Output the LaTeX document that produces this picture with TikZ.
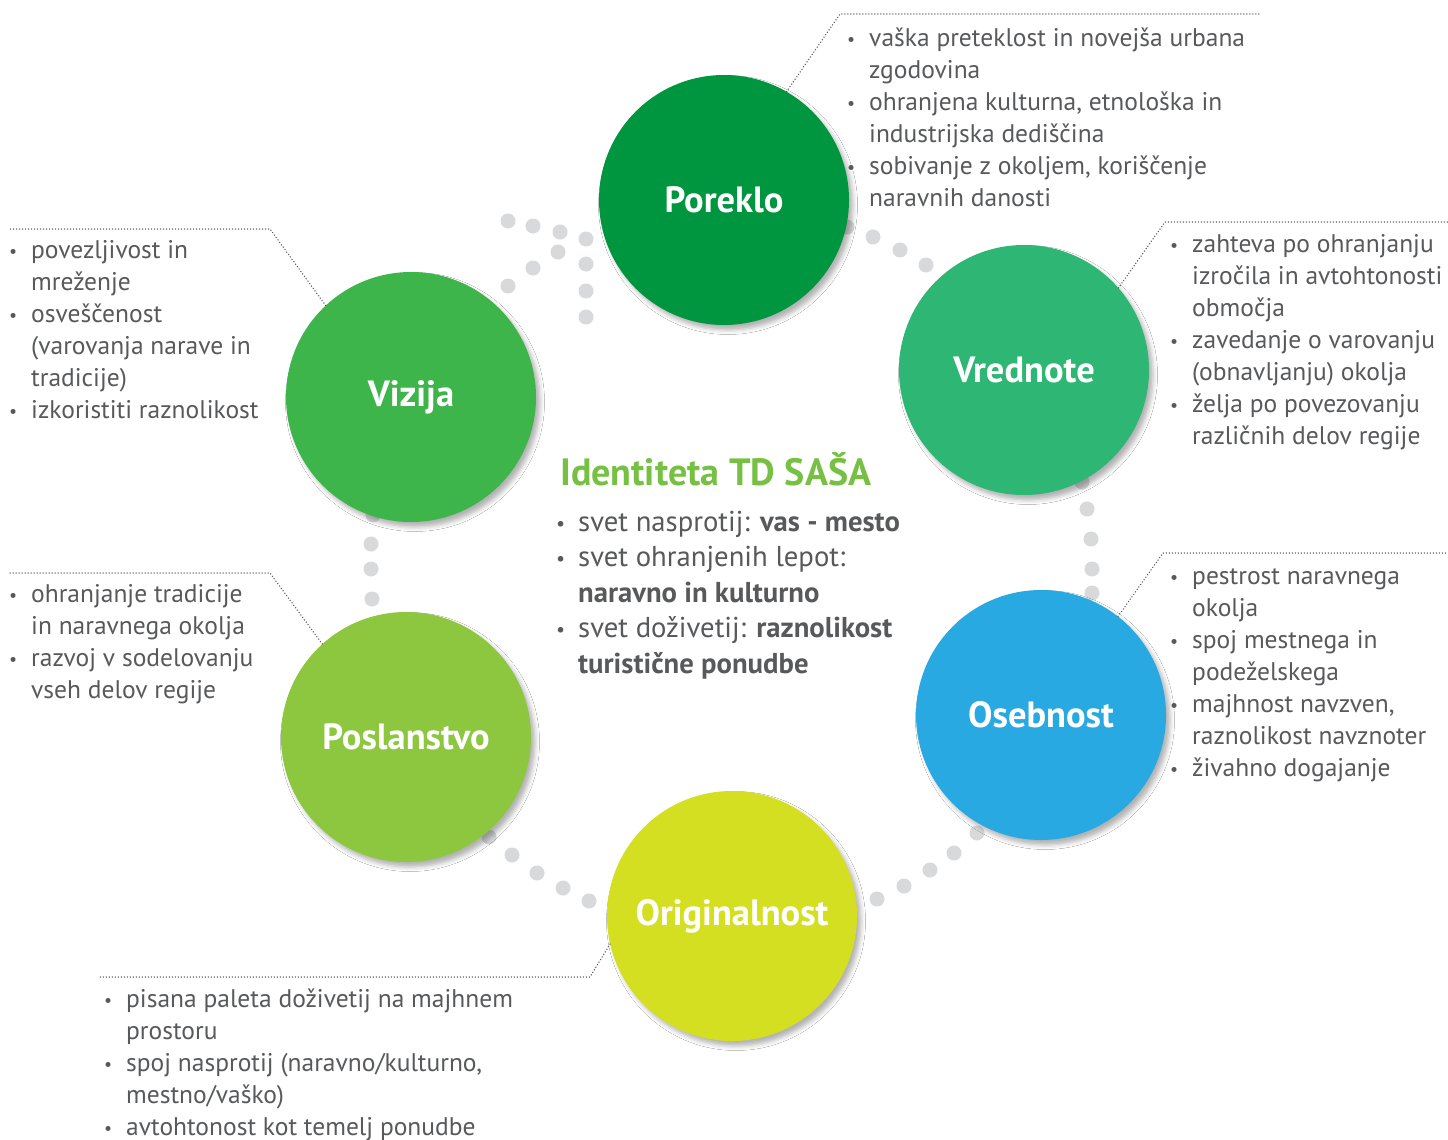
\documentclass[tikz,border=0pt]{standalone}
\usepackage{fontspec}
\setmainfont{PT Sans}
\usetikzlibrary{shadows.blur}
\definecolor{poreklo}{HTML}{00963F}
\definecolor{vrednote}{HTML}{2DB674}
\definecolor{osebnost}{HTML}{29A9E1}
\definecolor{originalnost}{HTML}{D5DF21}
\definecolor{poslanstvo}{HTML}{8DC63F}
\definecolor{vizija}{HTML}{3DB54A}
\definecolor{titlegreen}{HTML}{76C043}
\definecolor{txtgray}{HTML}{58595B}
\definecolor{dotgray}{HTML}{D8D9DB}
\definecolor{leadgray}{HTML}{58595B}
\newcommand\bu{\strut\makebox[22pt][l]{\raisebox{1pt}{\scalebox{0.7}{\textbullet}}}}
\newcommand\hi{\hspace*{22pt}}
\tikzset{
  stage/.style={%
    circle,fill=#1,
    minimum size=250pt,
    inner sep=0pt,text=white,
    font=\bfseries\fontsize{36.5}{40}\selectfont,
    blur shadow={shadow xshift=4pt,shadow yshift=-5pt,shadow blur radius=4.5pt,shadow opacity=30},
  },
  notes/.style={%
    anchor=north west,align=left,
    inner sep=0pt,text=txtgray,
    font=\fontsize{25.5}{32}\selectfont,
  },
  leader/.style={%
    draw=leadgray,line width=1.5pt,
    dash pattern=on 0pt off 3pt,line cap=round,
  },
  dot/.style={fill=dotgray},
}
\begin{document}
\begin{tikzpicture}[x=1pt,y=-1pt]
\useasboundingbox[fill=white] (0,0) rectangle (1448,1140);
% dotted ring between the stages
\foreach \x/\y in {508/221,533/226,560/232,586/239,558/252,533/268,508/286,586/264,586/291,586/317,
    847/227,873/237,900/250,926/265,
    1082/482,1087/509,1091/539,1092/569,1092/593,
    977/833,954/853,930/870,904/886,877/899,
    489/837,512/855,537/873,563/888,589/901,
    373/515,371/544,371/569,372/599}
  \fill[dot] (\x,\y) circle (7.5pt);
% stages
\node[stage=poreklo] (Poreklo) at (724,200) {Poreklo};
\node[stage=vrednote] (Vrednote) at (1024,370) {Vrednote};
\node[stage=osebnost] (Osebnost) at (1041,715) {Osebnost};
\node[stage=originalnost] (Originalnost) at (732,916) {Originalnost};
\node[stage=poslanstvo] (Poslanstvo) at (406,737) {Poslanstvo};
\node[stage=vizija] (Vizija) at (411,397) {Vizija};
% leader corners
\coordinate (pk1) at (840,14);    \coordinate (pk2) at (1260,14);
\coordinate (vr1) at (1165,222);  \coordinate (vr2) at (1448,222);
\coordinate (os1) at (1163,553);  \coordinate (os2) at (1448,553);
\coordinate (vi1) at (270,229);   \coordinate (vi2) at (10,229);
\coordinate (po1) at (270,573);   \coordinate (po2) at (10,573);
\coordinate (or1) at (590,977);   \coordinate (or2) at (100,977);
\draw[leader] (Poreklo.60) -- (pk1) -- (pk2);
\draw[leader] (Vrednote.41) -- (vr1) -- (vr2);
\draw[leader] (Osebnost.52) -- (os1) -- (os2);
\draw[leader] (Vizija.133) -- (vi1) -- (vi2);
\draw[leader] (Poslanstvo.132) -- (po1) -- (po2);
\draw[leader] (Originalnost.193) -- (or1) -- (or2);
% notes (top = first baseline - 22.4)
\node[notes] (pkText) at (847,23.6) {%
  \bu vaška preteklost in novejša urbana\\ \hi zgodovina\\
  \bu ohranjena kulturna, etnološka in\\ \hi industrijska dediščina\\
  \bu sobivanje z okoljem, koriščenje\\ \hi naravnih danosti};
\node[notes] (vrText) at (1170,229.6) {%
  \bu zahteva po ohranjanju\\ \hi izročila in avtohtonosti\\ \hi območja\\
  \bu zavedanje o varovanju\\ \hi (obnavljanju) okolja\\
  \bu želja po povezovanju\\ \hi različnih delov regije};
\node[notes] (osText) at (1170,561.6) {%
  \bu pestrost naravnega\\ \hi okolja\\
  \bu spoj mestnega in\\ \hi podeželskega\\
  \bu majhnost navzven,\\ \hi raznolikost navznoter\\
  \bu živahno dogajanje};
\node[notes] (viText) at (9,235.6) {%
  \bu povezljivost in\\ \hi mreženje\\
  \bu osveščenost\\ \hi (varovanja narave in\\ \hi tradicije)\\
  \bu izkoristiti raznolikost};
\node[notes] (poText) at (9,579.6) {%
  \bu ohranjanje tradicije\\ \hi in naravnega okolja\\
  \bu razvoj v sodelovanju\\ \hi vseh delov regije};
\node[notes] (orText) at (104,984.6) {%
  \bu pisana paleta doživetij na majhnem\\ \hi prostoru\\
  \bu spoj nasprotij (naravno/kulturno,\\ \hi mestno/vaško)\\
  \bu avtohtonost kot temelj ponudbe};
% centre
\node[anchor=base west,inner sep=0pt,text=titlegreen,font=\bfseries\fontsize{38}{42}\selectfont]
  (title) at (560,485) {Identiteta TD SAŠA};
\node[notes,font=\fontsize{28.7}{35.5}\selectfont] (idText) at (556,506.15) {%
  \bu svet nasprotij: \textbf{vas - mesto}\\
  \bu svet ohranjenih lepot:\\ \hi \textbf{naravno in kulturno}\\
  \bu svet doživetij: \textbf{raznolikost}\\ \hi \textbf{turistične ponudbe}};
\end{tikzpicture}
\end{document}
